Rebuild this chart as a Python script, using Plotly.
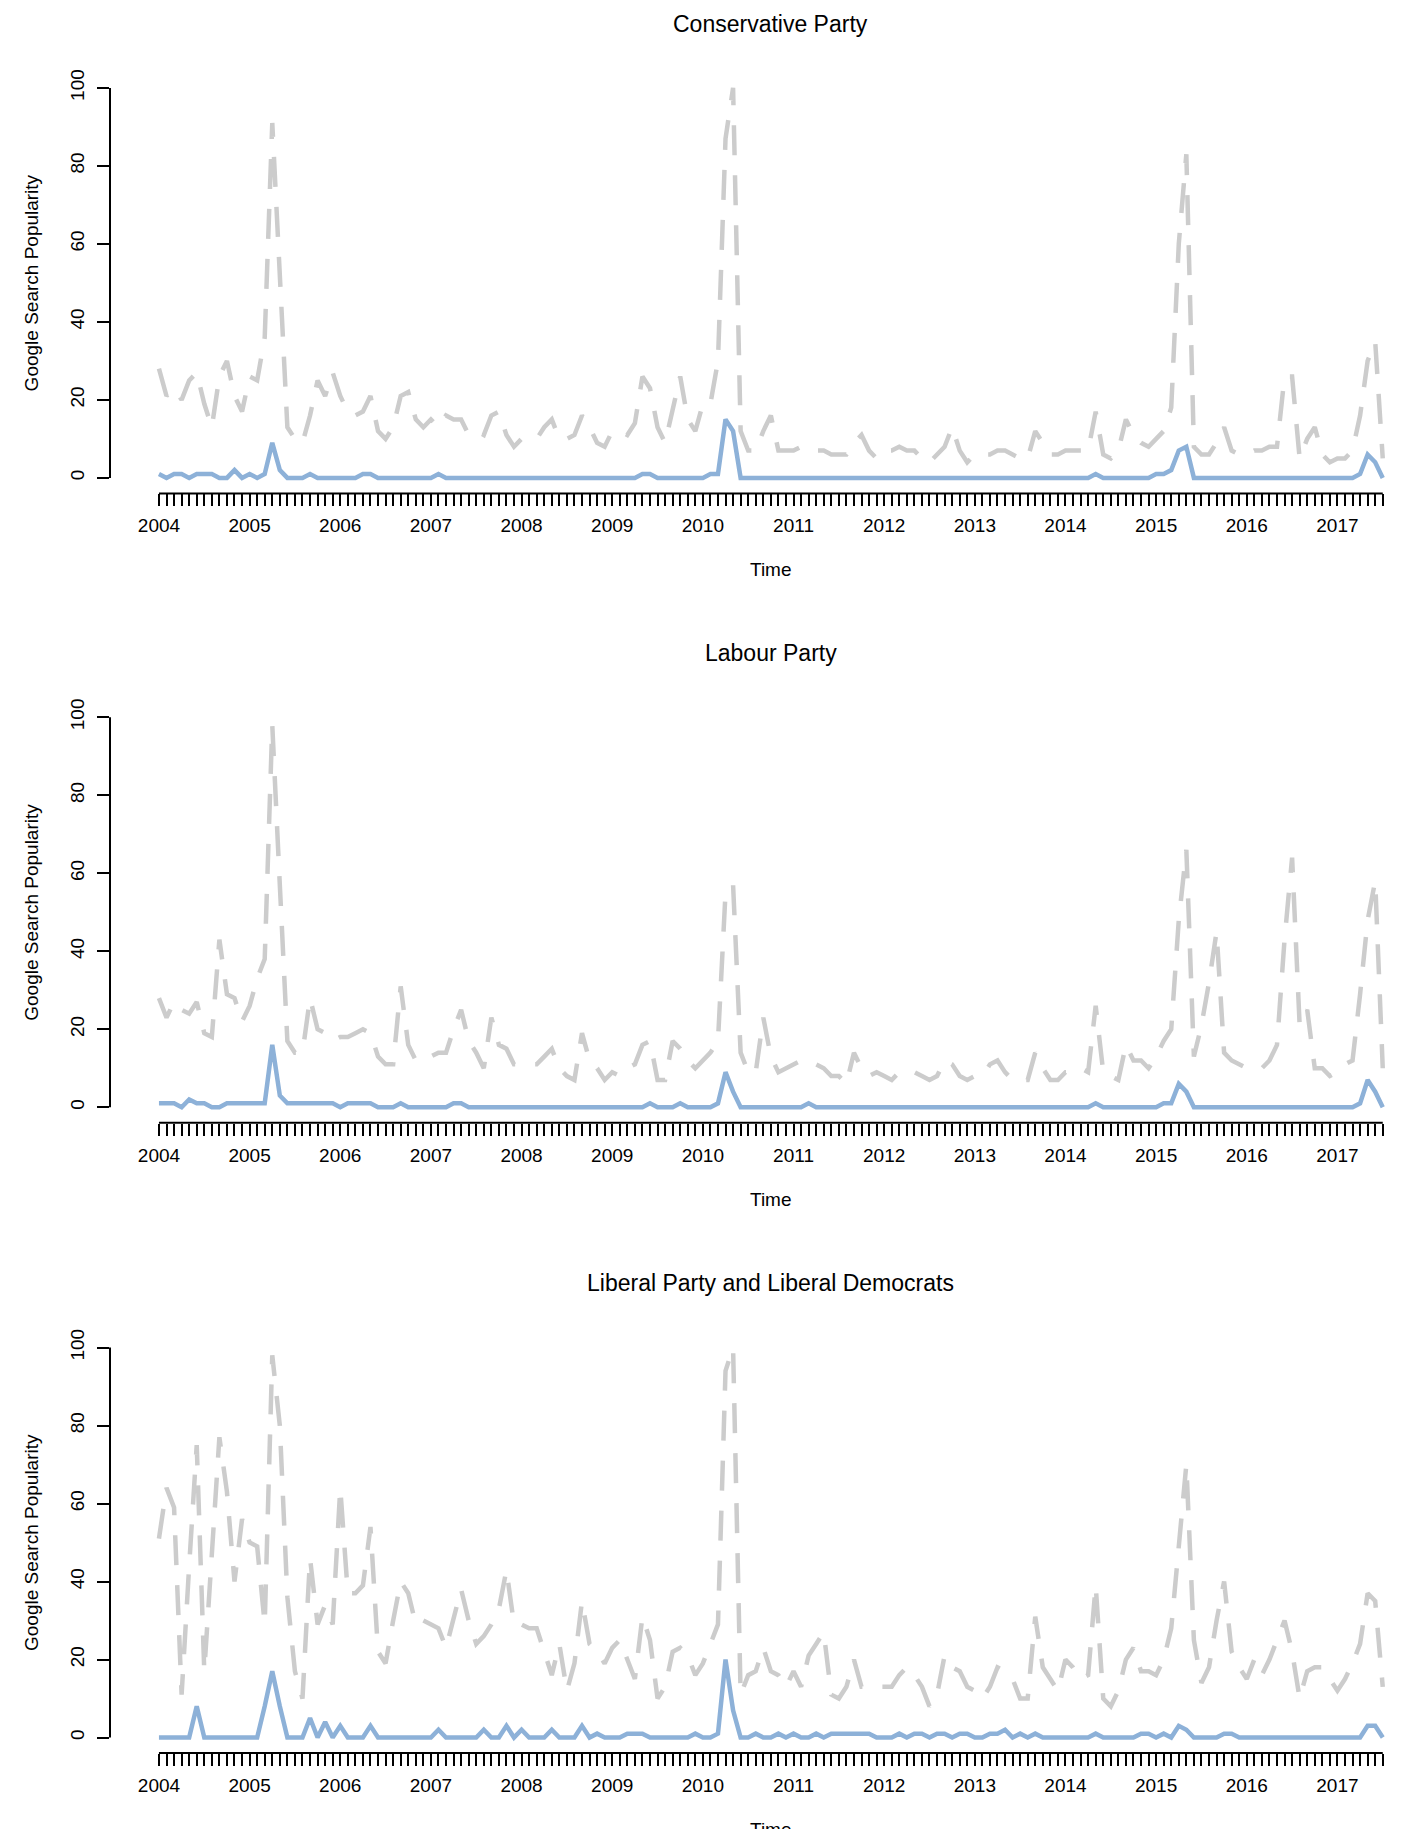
import plotly.graph_objects as go

# ---------------- data (monthly, Jan 2004 - Jul 2017) ----------------
start_year = 2004
year_labels = [str(y) for y in range(2004, 2018)]
panel_titles = ["Conservative Party", "Labour Party", "Liberal Party and Liberal Democrats"]
y_ticks = [0, 20, 40, 60, 80, 100]

con_grey = [28, 21, 23, 20, 25, 27, 19, 13, 26, 30, 21, 17,
            26, 25, 36, 91, 52, 13, 10, 9, 16, 25, 21, 27,
            21, 17, 16, 17, 21, 12, 10, 13, 21, 22, 15, 13,
            15, 13, 16, 15, 15, 11, 12, 11, 16, 17, 11, 8,
            10, 10, 10, 13, 15, 10, 10, 11, 16, 13, 9, 8,
            12, 12, 11, 14, 26, 23, 13, 9, 18, 26, 15, 12,
            19, 19, 30, 87, 100, 12, 7, 7, 12, 16, 7, 7,
            7, 8, 8, 7, 7, 6, 6, 6, 9, 11, 7, 5,
            7, 7, 8, 7, 7, 5, 4, 6, 8, 13, 7, 4,
            6, 6, 6, 7, 7, 6, 5, 5, 12, 9, 6, 6,
            7, 7, 7, 7, 17, 6, 5, 7, 15, 11, 9, 8,
            10, 12, 18, 60, 83, 8, 6, 6, 9, 13, 7, 6,
            6, 7, 7, 8, 8, 26, 26, 5, 10, 13, 6, 4,
            5, 5, 7, 16, 30, 35, 5]

con_blue = [1, 0, 1, 1, 0, 1, 1, 1, 0, 0, 2, 0,
            1, 0, 1, 9, 2, 0, 0, 0, 1, 0, 0, 0,
            0, 0, 0, 1, 1, 0, 0, 0, 0, 0, 0, 0,
            0, 1, 0, 0, 0, 0, 0, 0, 0, 0, 0, 0,
            0, 0, 0, 0, 0, 0, 0, 0, 0, 0, 0, 0,
            0, 0, 0, 0, 1, 1, 0, 0, 0, 0, 0, 0,
            0, 1, 1, 15, 12, 0, 0, 0, 0, 0, 0, 0,
            0, 0, 0, 0, 0, 0, 0, 0, 0, 0, 0, 0,
            0, 0, 0, 0, 0, 0, 0, 0, 0, 0, 0, 0,
            0, 0, 0, 0, 0, 0, 0, 0, 0, 0, 0, 0,
            0, 0, 0, 0, 1, 0, 0, 0, 0, 0, 0, 0,
            1, 1, 2, 7, 8, 0, 0, 0, 0, 0, 0, 0,
            0, 0, 0, 0, 0, 0, 0, 0, 0, 0, 0, 0,
            0, 0, 0, 1, 6, 4, 0]

lab_grey = [28, 23, 27, 25, 24, 27, 19, 18, 43, 29, 28, 22,
            26, 33, 38, 98, 57, 17, 14, 14, 28, 20, 19, 17,
            18, 18, 19, 20, 19, 13, 11, 11, 31, 16, 12, 12,
            13, 14, 14, 20, 25, 17, 14, 10, 23, 16, 15, 11,
            11, 11, 11, 13, 15, 10, 8, 7, 19, 12, 10, 7,
            9, 8, 10, 11, 16, 17, 7, 7, 17, 15, 12, 10,
            12, 14, 17, 55, 57, 14, 9, 9, 23, 13, 9, 10,
            11, 12, 11, 11, 10, 8, 8, 6, 14, 10, 8, 9,
            8, 7, 9, 9, 9, 8, 7, 8, 12, 11, 8, 7,
            8, 8, 11, 12, 9, 7, 7, 7, 14, 10, 7, 7,
            9, 9, 10, 9, 26, 9, 8, 7, 16, 12, 12, 10,
            13, 17, 20, 48, 66, 13, 21, 32, 45, 14, 12, 11,
            10, 10, 10, 12, 16, 43, 64, 21, 25, 10, 10, 8,
            9, 11, 12, 29, 48, 58, 10]

lab_blue = [1, 1, 1, 0, 2, 1, 1, 0, 0, 1, 1, 1,
            1, 1, 1, 16, 3, 1, 1, 1, 1, 1, 1, 1,
            0, 1, 1, 1, 1, 0, 0, 0, 1, 0, 0, 0,
            0, 0, 0, 1, 1, 0, 0, 0, 0, 0, 0, 0,
            0, 0, 0, 0, 0, 0, 0, 0, 0, 0, 0, 0,
            0, 0, 0, 0, 0, 1, 0, 0, 0, 1, 0, 0,
            0, 0, 1, 9, 4, 0, 0, 0, 0, 0, 0, 0,
            0, 0, 1, 0, 0, 0, 0, 0, 0, 0, 0, 0,
            0, 0, 0, 0, 0, 0, 0, 0, 0, 0, 0, 0,
            0, 0, 0, 0, 0, 0, 0, 0, 0, 0, 0, 0,
            0, 0, 0, 0, 1, 0, 0, 0, 0, 0, 0, 0,
            0, 1, 1, 6, 4, 0, 0, 0, 0, 0, 0, 0,
            0, 0, 0, 0, 0, 0, 0, 0, 0, 0, 0, 0,
            0, 0, 0, 1, 7, 4, 0]

lib_grey = [51, 64, 59, 11, 44, 75, 17, 47, 77, 63, 40, 56,
            50, 49, 29, 98, 80, 36, 17, 10, 46, 29, 34, 29,
            64, 37, 37, 39, 54, 22, 19, 30, 40, 37, 29, 30,
            29, 28, 23, 31, 38, 30, 24, 26, 29, 33, 43, 29,
            29, 28, 28, 22, 16, 24, 12, 19, 35, 24, 22, 19,
            23, 25, 20, 15, 31, 25, 10, 13, 22, 23, 21, 16,
            19, 24, 29, 94, 100, 11, 16, 17, 23, 17, 16, 13,
            17, 13, 21, 24, 27, 11, 10, 13, 20, 13, 13, 13,
            13, 13, 16, 18, 16, 13, 8, 11, 21, 18, 17, 13,
            12, 10, 13, 18, 17, 15, 10, 10, 31, 18, 15, 12,
            20, 18, 15, 16, 39, 10, 8, 12, 20, 23, 17, 17,
            16, 20, 28, 50, 70, 25, 14, 18, 30, 40, 22, 18,
            15, 20, 16, 20, 25, 30, 22, 10, 17, 18, 18, 15,
            12, 15, 19, 24, 37, 35, 13]

lib_blue = [0, 0, 0, 0, 0, 8, 0, 0, 0, 0, 0, 0,
            0, 0, 8, 17, 8, 0, 0, 0, 5, 0, 4, 0,
            3, 0, 0, 0, 3, 0, 0, 0, 0, 0, 0, 0,
            0, 2, 0, 0, 0, 0, 0, 2, 0, 0, 3, 0,
            2, 0, 0, 0, 2, 0, 0, 0, 3, 0, 1, 0,
            0, 0, 1, 1, 1, 0, 0, 0, 0, 0, 0, 1,
            0, 0, 1, 20, 7, 0, 0, 1, 0, 0, 1, 0,
            1, 0, 0, 1, 0, 1, 1, 1, 1, 1, 1, 0,
            0, 0, 1, 0, 1, 1, 0, 1, 1, 0, 1, 1,
            0, 0, 1, 1, 2, 0, 1, 0, 1, 0, 0, 0,
            0, 0, 0, 0, 1, 0, 0, 0, 0, 0, 1, 1,
            0, 1, 0, 3, 2, 0, 0, 0, 0, 1, 1, 0,
            0, 0, 0, 0, 0, 0, 0, 0, 0, 0, 0, 0,
            0, 0, 0, 0, 3, 3, 0]

panels = [(panel_titles[0], con_grey, con_blue),
          (panel_titles[1], lab_grey, lab_blue),
          (panel_titles[2], lib_grey, lib_blue)]

# ---------------- layout constants ----------------
W, H = 1420, 1829
FONT = "Liberation Sans, Arial, Helvetica, sans-serif"
GREY = "#CCCCCC"
BLUE = "#8DB1D8"
panel_top = [69.4, 699.8, 1331.1]   # px, top of each plotting region
panel_h = 421.9                      # px, height of plotting region
left_px = 110.0                      # px, left edge of plotting region
region_right_px = 1431.7             # px, right edge of (partly cropped) region

n = len(con_grey)
t = [start_year + i / 12 for i in range(n)]
pad = 0.04 * (t[-1] - t[0])
x0 = t[0] - pad
x_full_end = t[-1] + pad
x1 = x0 + (x_full_end - x0) * (W - left_px) / (region_right_px - left_px)
ticktext = [year_labels[i // 12] if i % 12 == 0 else "" for i in range(n)]
ypad = 0.04 * (max(y_ticks) - min(y_ticks))

fig = go.Figure()
annotations = []
shapes = []
layout_axes = {}

for k, (title, grey, blue) in enumerate(panels):
    sfx = "" if k == 0 else str(k + 1)
    xname, yname = "x" + sfx, "y" + sfx
    top = panel_top[k]
    bot = top + panel_h
    ydom = [1 - bot / H, 1 - top / H]

    fig.add_trace(go.Scatter(x=t, y=grey, mode="lines", xaxis=xname, yaxis=yname,
                             line=dict(color=GREY, width=4.5, dash="30px,20px"),
                             showlegend=False, hoverinfo="skip"))
    fig.add_trace(go.Scatter(x=t, y=blue, mode="lines", xaxis=xname, yaxis=yname,
                             line=dict(color=BLUE, width=4.5),
                             showlegend=False, hoverinfo="skip"))

    layout_axes["xaxis" + sfx] = dict(
        domain=[left_px / W, 1], range=[x0, x1], anchor=yname,
        tickmode="array", tickvals=t, ticktext=ticktext,
        ticks="outside", ticklen=12, tickwidth=2, tickcolor="black",
        tickfont=dict(family=FONT, size=19, color="black"), tickangle=0,
        ticklabelstandoff=3,
        showgrid=False, zeroline=False, showline=False, fixedrange=True)
    layout_axes["yaxis" + sfx] = dict(
        domain=ydom, range=[min(y_ticks) - ypad, max(y_ticks) + ypad], anchor=xname,
        tickmode="array", tickvals=y_ticks, ticktext=[str(v) for v in y_ticks],
        ticks="outside", ticklen=12, tickwidth=2, tickcolor="black",
        tickfont=dict(family=FONT, size=19, color="black"), tickangle=-90,
        ticklabelstandoff=5,
        showgrid=False, zeroline=False, showline=False, fixedrange=True)

    # axis lines spanning first..last tick (base-graphics style)
    shapes.append(dict(type="line", xref=xname, yref=yname + " domain",
                       x0=t[0], x1=t[-1], y0=0, y1=0,
                       line=dict(color="black", width=2)))
    shapes.append(dict(type="line", xref=xname + " domain", yref=yname,
                       x0=0, x1=0, y0=min(y_ticks), y1=max(y_ticks),
                       line=dict(color="black", width=2)))

    center_x = (left_px + region_right_px) / 2 / W
    annotations.append(dict(text=title, xref="paper", yref="paper",
                            x=center_x, y=1 - (top - 48.5) / H,
                            xanchor="center", yanchor="middle", showarrow=False,
                            font=dict(family=FONT, size=23, color="black")))
    annotations.append(dict(text="Time", xref="paper", yref="paper",
                            x=center_x, y=1 - (bot + 76.5) / H,
                            xanchor="center", yanchor="middle", showarrow=False,
                            font=dict(family=FONT, size=19, color="black")))
    annotations.append(dict(text="Google Search Popularity", xref="paper", yref="paper",
                            x=31.5 / W, y=1 - (top + panel_h / 2) / H,
                            xanchor="center", yanchor="middle", showarrow=False,
                            textangle=-90,
                            font=dict(family=FONT, size=19, color="black")))

fig.update_layout(width=W, height=H, margin=dict(l=0, r=0, t=0, b=0),
                  paper_bgcolor="white", plot_bgcolor="white",
                  annotations=annotations, shapes=shapes, **layout_axes)

fig.write_html("out.html")
